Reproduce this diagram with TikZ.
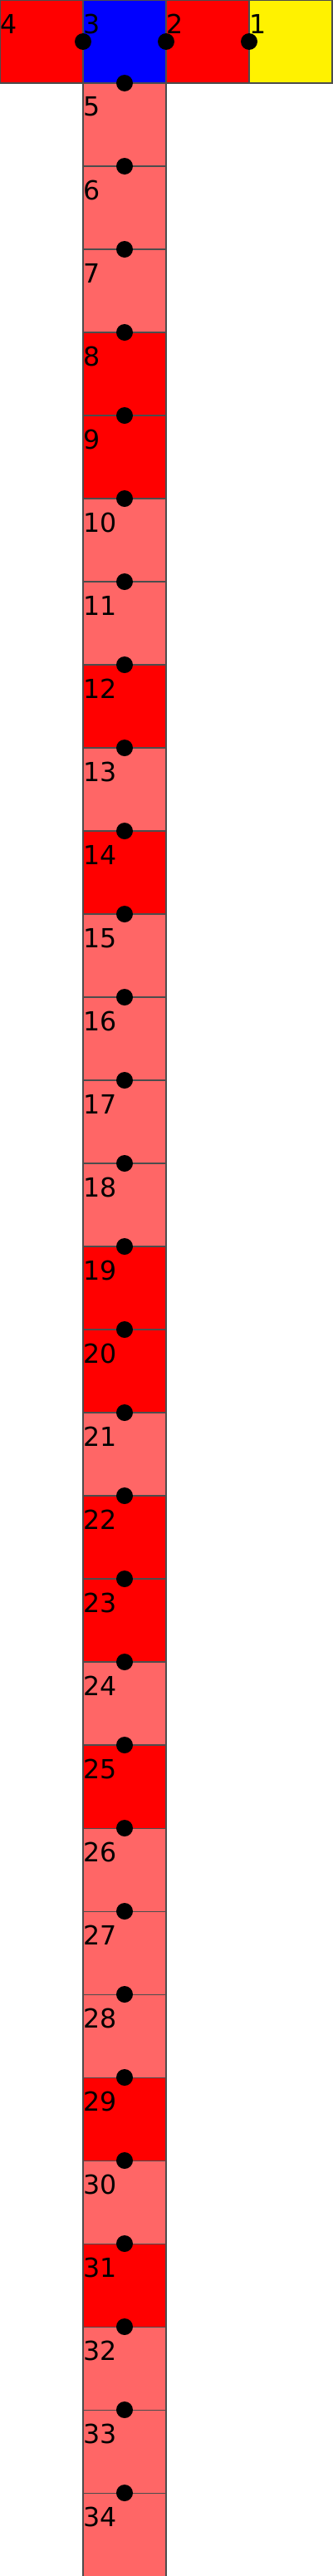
\documentclass[tikz,border=0pt]{standalone}
\usepackage{fontspec}
\setmainfont{DejaVu Sans}
\definecolor{pale}{HTML}{FF6666}

\begin{document}
\begin{tikzpicture}[cell/.style={draw=black!70, line width=0.3pt, minimum size=1cm, inner sep=0pt, outer sep=0pt},
  num/.style={font=\fontsize{9}{9}\selectfont, inner sep=0pt, anchor=base west, yshift=-0.4cm},
  dot/.style={circle, fill=black, inner sep=0pt, minimum size=0.2cm}]
\useasboundingbox (0,0) rectangle (4,-31);
     % top row
     \node[cell, fill=red, label={[num]north west:4}] (c4) at (0.5,-0.5) {};
     \node[cell, fill=blue, label={[num]north west:3}] (c3) at (1.5,-0.5) {};
     \node[cell, fill=red, label={[num]north west:2}] (c2) at (2.5,-0.5) {};
     \node[cell, fill=yellow, label={[num]north west:1}] (c1) at (3.5,-0.5) {};
     % column
     \node[cell, fill=pale, label={[num]north west:5}] (c5) at (1.5,-1.5) {};
     \node[cell, fill=pale, label={[num]north west:6}] (c6) at (1.5,-2.5) {};
     \node[cell, fill=pale, label={[num]north west:7}] (c7) at (1.5,-3.5) {};
     \node[cell, fill=red, label={[num]north west:8}] (c8) at (1.5,-4.5) {};
     \node[cell, fill=red, label={[num]north west:9}] (c9) at (1.5,-5.5) {};
     \node[cell, fill=pale, label={[num]north west:10}] (c10) at (1.5,-6.5) {};
     \node[cell, fill=pale, label={[num]north west:11}] (c11) at (1.5,-7.5) {};
     \node[cell, fill=red, label={[num]north west:12}] (c12) at (1.5,-8.5) {};
     \node[cell, fill=pale, label={[num]north west:13}] (c13) at (1.5,-9.5) {};
     \node[cell, fill=red, label={[num]north west:14}] (c14) at (1.5,-10.5) {};
     \node[cell, fill=pale, label={[num]north west:15}] (c15) at (1.5,-11.5) {};
     \node[cell, fill=pale, label={[num]north west:16}] (c16) at (1.5,-12.5) {};
     \node[cell, fill=pale, label={[num]north west:17}] (c17) at (1.5,-13.5) {};
     \node[cell, fill=pale, label={[num]north west:18}] (c18) at (1.5,-14.5) {};
     \node[cell, fill=red, label={[num]north west:19}] (c19) at (1.5,-15.5) {};
     \node[cell, fill=red, label={[num]north west:20}] (c20) at (1.5,-16.5) {};
     \node[cell, fill=pale, label={[num]north west:21}] (c21) at (1.5,-17.5) {};
     \node[cell, fill=red, label={[num]north west:22}] (c22) at (1.5,-18.5) {};
     \node[cell, fill=red, label={[num]north west:23}] (c23) at (1.5,-19.5) {};
     \node[cell, fill=pale, label={[num]north west:24}] (c24) at (1.5,-20.5) {};
     \node[cell, fill=red, label={[num]north west:25}] (c25) at (1.5,-21.5) {};
     \node[cell, fill=pale, label={[num]north west:26}] (c26) at (1.5,-22.5) {};
     \node[cell, fill=pale, label={[num]north west:27}] (c27) at (1.5,-23.5) {};
     \node[cell, fill=pale, label={[num]north west:28}] (c28) at (1.5,-24.5) {};
     \node[cell, fill=red, label={[num]north west:29}] (c29) at (1.5,-25.5) {};
     \node[cell, fill=pale, label={[num]north west:30}] (c30) at (1.5,-26.5) {};
     \node[cell, fill=red, label={[num]north west:31}] (c31) at (1.5,-27.5) {};
     \node[cell, fill=pale, label={[num]north west:32}] (c32) at (1.5,-28.5) {};
     \node[cell, fill=pale, label={[num]north west:33}] (c33) at (1.5,-29.5) {};
     \node[cell, fill=pale, label={[num]north west:34}] (c34) at (1.5,-30.5) {};
     % joints
     \node[dot] (d43) at (c3.west) {};
     \node[dot] (d32) at (c2.west) {};
     \node[dot] (d21) at (c1.west) {};
     \node[dot] (d35) at (c5.north) {};
     \foreach \n in {6,...,34}
       \node[dot] (d\n) at (c\n.north) {};
\end{tikzpicture}
\end{document}
